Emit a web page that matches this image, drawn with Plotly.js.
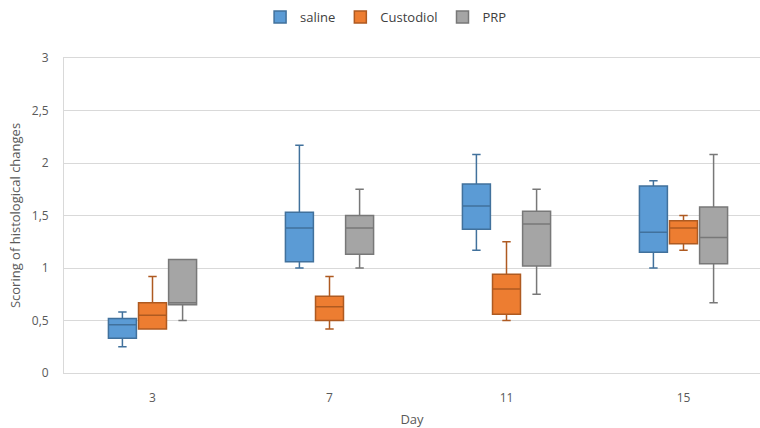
<!DOCTYPE html>
<html>
<head>
<meta charset="utf-8">
<script src="https://cdn.plot.ly/plotly-3.0.1.min.js"></script>
<style>html,body{margin:0;padding:0;background:#fff;}#chart{width:760px;height:428px;}</style>
</head>
<body>
<div id="chart"></div>
<script>
const days = ['3', '7', '11', '15'];
const seriesNames = ['saline', 'Custodiol', 'PRP'];

const salineLower  = [0.25, 1.00, 1.17, 1.00];
const salineQ1     = [0.33, 1.06, 1.37, 1.15];
const salineMedian = [0.46, 1.38, 1.59, 1.34];
const salineQ3     = [0.52, 1.53, 1.80, 1.78];
const salineUpper  = [0.58, 2.17, 2.08, 1.83];

const custLower  = [0.42, 0.42, 0.50, 1.17];
const custQ1     = [0.42, 0.50, 0.56, 1.23];
const custMedian = [0.55, 0.63, 0.80, 1.38];
const custQ3     = [0.67, 0.73, 0.94, 1.45];
const custUpper  = [0.92, 0.92, 1.25, 1.50];

const prpLower  = [0.50, 1.00, 0.75, 0.67];
const prpQ1     = [0.65, 1.13, 1.02, 1.04];
const prpMedian = [0.67, 1.38, 1.42, 1.29];
const prpQ3     = [1.08, 1.50, 1.54, 1.58];
const prpUpper  = [1.08, 1.75, 1.75, 2.08];

const fills = ['#5B9BD5', '#ED7D31', '#A5A5A5'];
const lines = ['#41719C', '#AE5A21', '#787878'];
const stats = [
  [salineLower, salineQ1, salineMedian, salineQ3, salineUpper],
  [custLower, custQ1, custMedian, custQ3, custUpper],
  [prpLower, prpQ1, prpMedian, prpQ3, prpUpper]
];
const xIdx = days.map((d, i) => i);

const traces = stats.map((s, k) => ({
  type: 'box',
  name: seriesNames[k],
  x: xIdx,
  lowerfence: s[0], q1: s[1], median: s[2], q3: s[3], upperfence: s[4],
  fillcolor: fills[k],
  line: {color: lines[k], width: 1.5},
  whiskerwidth: 0.3,
  boxpoints: false,
  hoverinfo: 'y'
}));

const font = {family: 'Open Sans, sans-serif', size: 12, color: '#595959'};
const titleFont = {family: 'Open Sans, sans-serif', size: 13, color: '#595959'};
const layout = {
  width: 760, height: 428,
  margin: {l: 64, r: 0, t: 58, b: 55},
  paper_bgcolor: '#fff', plot_bgcolor: '#fff',
  font: font,
  separators: ', ',
  boxmode: 'group',
  boxgap: 0.49,
  boxgroupgap: 0.07,
  showlegend: true,
  legend: {
    orientation: 'h', xref: 'container', yref: 'container',
    x: 0.508, xanchor: 'center', y: 0.995, yanchor: 'top',
    font: {family: 'Open Sans, sans-serif', size: 13, color: '#404040'},
    itemwidth: 30
  },
  xaxis: {
    type: 'linear',
    range: [-0.5, -0.5 + 696 / 177],
    tickmode: 'array', tickvals: xIdx, ticktext: days,
    showgrid: false, zeroline: false,
    showline: true, linecolor: '#D9D9D9', linewidth: 1, mirror: true,
    ticks: '', ticklen: 0, ticklabelstandoff: 14,
    tickfont: font,
    title: {text: 'Day', font: titleFont, standoff: 10}
  },
  yaxis: {
    range: [0, 3], dtick: 0.5, tick0: 0,
    tickformat: '.1~f',
    showgrid: true, gridcolor: '#D9D9D9', gridwidth: 1,
    zeroline: false,
    showline: true, linecolor: '#D9D9D9', linewidth: 1, mirror: true,
    ticks: '', ticklabelstandoff: 12,
    tickfont: font,
    title: {text: 'Scoring of histological changes', font: titleFont, standoff: 8}
  }
};

Plotly.newPlot('chart', traces, layout, {displayModeBar: false, staticPlot: true});
</script>
</body>
</html>
